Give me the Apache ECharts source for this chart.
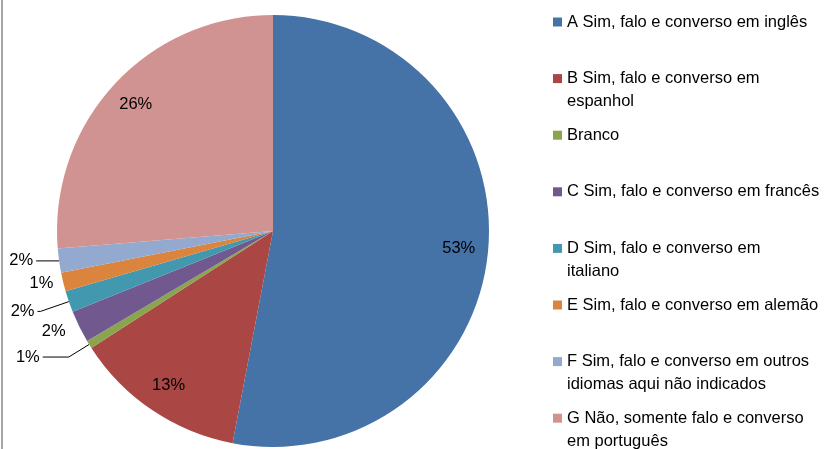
<!DOCTYPE html>
<html>
<head>
<meta charset="utf-8">
<script src="https://cdn.jsdelivr.net/npm/echarts@6/dist/echarts.min.js"></script>
<style>
html,body{margin:0;padding:0;background:#fff;}
#chart{width:824px;height:449px;}
</style>
</head>
<body>
<div id="chart"></div>
<script>
const categories = [
  'A Sim, falo e converso em inglês',
  'B Sim, falo e converso em espanhol',
  'Branco',
  'C Sim, falo e converso em francês',
  'D Sim, falo e converso em italiano',
  'E Sim, falo e converso em alemão',
  'F Sim, falo e converso em outros idiomas aqui não indicados',
  'G Não, somente falo e converso em português'
];
const values = [53.0, 12.9, 0.6, 2.4, 1.6, 1.4, 1.8, 26.3];
const legendLines = [
  ['A Sim, falo e converso em inglês'],
  ['B Sim, falo e converso em', 'espanhol'],
  ['Branco'],
  ['C Sim, falo e converso em francês'],
  ['D Sim, falo e converso em', 'italiano'],
  ['E Sim, falo e converso em alemão'],
  ['F Sim, falo e converso em outros', 'idiomas aqui não indicados'],
  ['G Não, somente falo e converso', 'em português']
];
const colors = ['#4572A7', '#AA4643', '#89A54E', '#71588F', '#4198AF', '#DB843D', '#93A9CF', '#D19392'];
const insideLabel = [true, true, false, false, false, false, false, true];
const showLine = [false, false, true, false, true, false, true, false];
// leader line lengths for the outside labels (radial, horizontal)
const lineLen = [0, 0, 24, 12, 30, 7, 1, 0];
const lineLen2 = [0, 0, 26, 0, 3, 0, 22, 0];

const FONT = '"Liberation Sans", Arial, sans-serif';
const FS = 16.5;
const fmt = p => Math.round(p.percent) + '%';

const chart = echarts.init(document.getElementById('chart'));
const R = 216;

const mainData = categories.map((c, i) => ({
  name: c,
  value: values[i],
  itemStyle: { color: colors[i] },
  label: { show: !insideLabel[i] },
  labelLine: {
    show: !insideLabel[i] && showLine[i],
    length: lineLen[i],
    length2: lineLen2[i]
  }
}));
const overlayData = categories.map((c, i) => ({
  name: c,
  value: values[i],
  label: { show: insideLabel[i] }
}));

chart.setOption({
  animation: false,
  backgroundColor: '#ffffff',
  color: colors,
  legend: {
    orient: 'vertical',
    left: 553,
    top: -12.5,
    height: 700,
    padding: 0,
    itemWidth: 9,
    itemHeight: 9,
    itemGap: -12.4,
    icon: 'rect',
    data: categories,
    formatter: name => {
      const l = legendLines[categories.indexOf(name)];
      return l.length === 1 ? '\n' + l[0] + '\n' : '\n' + l[0] + '\n' + l[1];
    },
    textStyle: {
      fontFamily: FONT,
      fontSize: FS,
      color: '#000',
      lineHeight: 23
    }
  },
  graphic: [{
    type: 'rect',
    left: 1,
    top: 0,
    shape: { width: 2, height: 449 },
    style: { fill: '#a6a6a6' }
  }],
  series: [
    {
      type: 'pie',
      center: [273, 231],
      radius: R,
      startAngle: 90,
      clockwise: true,
      avoidLabelOverlap: false,
      label: {
        position: 'outside',
        formatter: fmt,
        fontFamily: FONT,
        fontSize: FS,
        color: '#000',
        distanceToLabelLine: 3
      },
      labelLine: {
        lineStyle: { color: '#000', width: 1 }
      },
      emphasis: { disabled: true },
      data: mainData
    },
    {
      type: 'pie',
      center: [273, 231],
      radius: [R * 0.70, R],
      startAngle: 90,
      clockwise: true,
      silent: true,
      itemStyle: { color: 'rgba(0,0,0,0)' },
      label: {
        position: 'inside',
        formatter: fmt,
        fontFamily: FONT,
        fontSize: FS,
        color: '#000'
      },
      labelLine: { show: false },
      emphasis: { disabled: true },
      data: overlayData
    }
  ]
});
</script>
</body>
</html>
